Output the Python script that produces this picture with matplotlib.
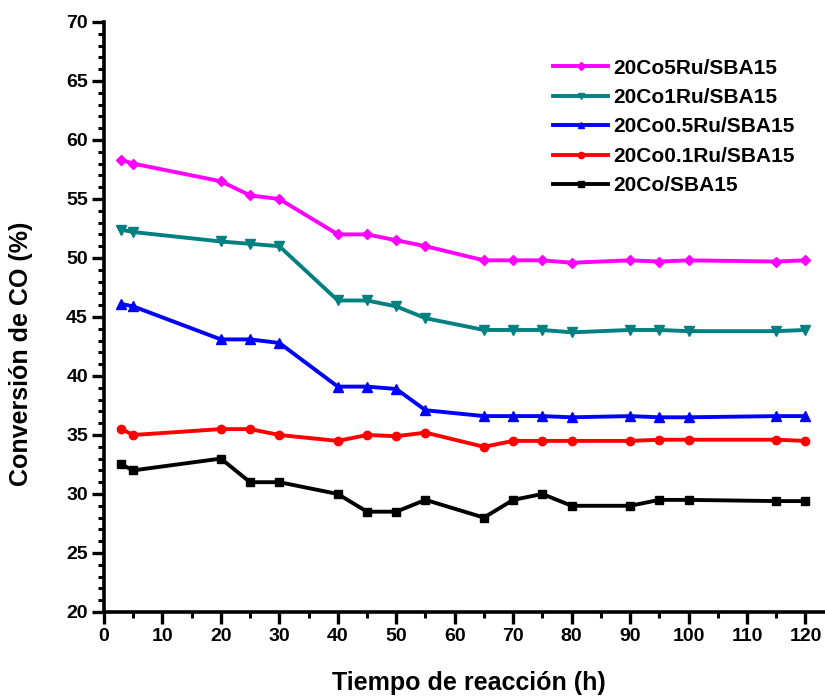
import numpy as np
import matplotlib
matplotlib.use('Agg')
from matplotlib import pyplot as plt
from matplotlib.ticker import MultipleLocator

plt.rcParams['font.family'] = ['Liberation Sans', 'DejaVu Sans']
plt.rcParams['font.weight'] = 'bold'

#reaction time (h)
time = [3, 5, 20, 25, 30, 40, 45, 50, 55, 65, 70, 75, 80, 90, 95, 100, 115, 120]

#CO conversion (%) per catalyst
co5ru = [58.3, 58.0, 56.5, 55.3, 55.0, 52.0, 52.0, 51.5, 51.0, 49.8, 49.8, 49.8,
         49.6, 49.8, 49.7, 49.8, 49.7, 49.8]
co1ru = [52.4, 52.2, 51.4, 51.2, 51.0, 46.4, 46.4, 45.9, 44.9, 43.9, 43.9, 43.9,
         43.7, 43.9, 43.9, 43.8, 43.8, 43.9]
co05ru = [46.1, 45.9, 43.1, 43.1, 42.8, 39.1, 39.1, 38.9, 37.1, 36.6, 36.6, 36.6,
          36.5, 36.6, 36.5, 36.5, 36.6, 36.6]
co01ru = [35.5, 35.0, 35.5, 35.5, 35.0, 34.5, 35.0, 34.9, 35.2, 34.0, 34.5, 34.5,
          34.5, 34.5, 34.6, 34.6, 34.6, 34.5]
co = [32.5, 32.0, 33.0, 31.0, 31.0, 30.0, 28.5, 28.5, 29.5, 28.0, 29.5, 30.0,
      29.0, 29.0, 29.5, 29.5, 29.4, 29.4]

series = [
    ('20Co5Ru/SBA15', co5ru, '#FF00FF', 'D', 5.5),
    ('20Co1Ru/SBA15', co1ru, '#008080', 'v', 6.5),
    ('20Co0.5Ru/SBA15', co05ru, '#0000FF', '^', 6.5),
    ('20Co0.1Ru/SBA15', co01ru, '#FF0000', 'o', 6),
    ('20Co/SBA15', co, 'black', 's', 5.5),
]

fig = plt.figure(figsize=(8.25, 6.96), dpi=100)
ax = fig.add_axes([0.126, 0.1207, 0.873, 0.8477])

for name, vals, col, mk, ms in series:
    ax.plot(time, vals, color=col, marker=mk, markersize=ms, lw=2.8, label=name)

ax.set_xlim(0, 123.2)
ax.set_ylim(20, 70)
ax.xaxis.set_major_locator(MultipleLocator(10))
ax.xaxis.set_minor_locator(MultipleLocator(5))
ax.yaxis.set_major_locator(MultipleLocator(5))
ax.yaxis.set_minor_locator(MultipleLocator(1))

for s in ['top', 'right']:
    ax.spines[s].set_visible(False)
for s in ['left', 'bottom']:
    ax.spines[s].set_linewidth(2.6)

ax.tick_params(which='major', direction='out', length=8.5, width=2.4, labelsize=14, pad=3)
ax.tick_params(which='minor', direction='out', length=4, width=2.2)
for lab in ax.get_xticklabels() + ax.get_yticklabels():
    lab.set_fontweight('bold')

ax.set_xlabel('Tiempo de reacción (h)', fontsize=18, fontweight='bold')
ax.set_ylabel('Conversión de CO (%)', fontsize=18, fontweight='bold')
ax.xaxis.set_label_coords(0.506, -0.1)
ax.yaxis.set_label_coords(-0.098, 0.437)

leg = ax.legend(loc='upper left', bbox_to_anchor=(0.6125, 0.952), frameon=False,
                prop={'size': 15, 'weight': 'bold'}, handlelength=2.6,
                handletextpad=0.25, labelspacing=0.5, markerscale=0.75,
                borderaxespad=0)

fig.savefig('out.png', dpi=100)
